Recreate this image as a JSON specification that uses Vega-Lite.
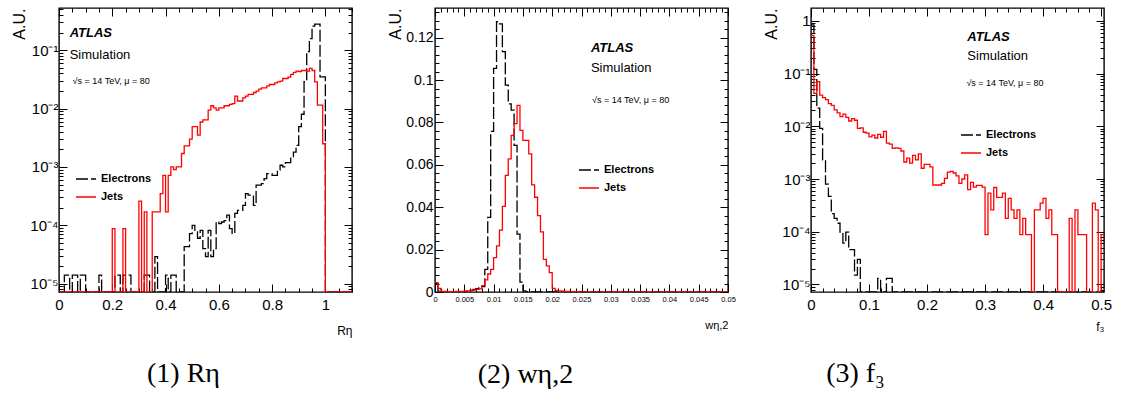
{
"$schema": "https://vega.github.io/schema/vega-lite/v6.json",
"background": "white",
"padding": {"left": 10, "top": 1, "right": 5, "bottom": 5},
"spacing": 83,
"bounds": "flush",
"config": {
  "view": {"stroke": "black", "strokeWidth": 1.4},
  "font": "Liberation Sans",
  "axis": {"domain": false, "grid": false, "tickColor": "black", "tickWidth": 1, "labelColor": "black", "titleColor": "black", "labelFont": "Liberation Sans", "titleFont": "Liberation Sans", "titleFontWeight": "normal", "labelFlush": false, "labelOverlap": false, "labelBound": false},
  "legend": {"symbolType": "stroke", "symbolSize": 400, "symbolStrokeWidth": 1.3, "labelFont": "Liberation Sans", "labelFontSize": 11, "labelFontWeight": "bold", "labelColor": "black", "rowPadding": 2, "labelOffset": 4},
  "title": {"font": "Liberation Serif", "fontSize": 28, "fontWeight": "normal", "color": "black", "orient": "bottom", "anchor": "middle", "frame": "group"}
},
"resolve": {"scale": {"x": "independent", "y": "independent", "color": "independent", "strokeDash": "independent"}, "legend": {"color": "independent", "strokeDash": "independent"}},
"hconcat": [
{
  "width": 293, "height": 284,
  "title": {"text": "(1) Rη", "offset": 24, "dx": -22},
  "data": {"values": [
    {"x":0,"Electrons":0,"Jets":0},{"x":0.01,"Electrons":0,"Jets":0},{"x":0.02,"Electrons":1.4e-5,"Jets":0},{"x":0.03,"Electrons":1.4e-5,"Jets":0},{"x":0.04,"Electrons":0,"Jets":0},{"x":0.05,"Electrons":1.4e-5,"Jets":0},{"x":0.06,"Electrons":1.4e-5,"Jets":0},{"x":0.07,"Electrons":0,"Jets":0},{"x":0.08,"Electrons":1.4e-5,"Jets":0},{"x":0.09,"Electrons":1.4e-5,"Jets":0},
    {"x":0.1,"Electrons":0,"Jets":0},{"x":0.11,"Electrons":0,"Jets":0},{"x":0.12,"Electrons":0,"Jets":0},{"x":0.13,"Electrons":0,"Jets":0},{"x":0.14,"Electrons":0,"Jets":0},{"x":0.15,"Electrons":1.4e-5,"Jets":0},{"x":0.16,"Electrons":0,"Jets":0},{"x":0.17,"Electrons":0,"Jets":0},{"x":0.18,"Electrons":0,"Jets":0},{"x":0.19,"Electrons":0,"Jets":0},
    {"x":0.2,"Electrons":0,"Jets":8.8e-5},{"x":0.21,"Electrons":1.4e-5,"Jets":0},{"x":0.22,"Electrons":1.4e-5,"Jets":0},{"x":0.23,"Electrons":0,"Jets":0},{"x":0.24,"Electrons":1.4e-5,"Jets":8.8e-5},{"x":0.25,"Electrons":1.4e-5,"Jets":0},{"x":0.26,"Electrons":1.4e-5,"Jets":0},{"x":0.27,"Electrons":0,"Jets":0},{"x":0.28,"Electrons":0,"Jets":0},{"x":0.29,"Electrons":0,"Jets":0},
    {"x":0.3,"Electrons":0,"Jets":2.6e-4},{"x":0.31,"Electrons":0,"Jets":0},{"x":0.32,"Electrons":1.4e-5,"Jets":1.7e-4},{"x":0.33,"Electrons":1.4e-5,"Jets":0},{"x":0.34,"Electrons":0,"Jets":0},{"x":0.35,"Electrons":0,"Jets":1.7e-4},{"x":0.36,"Electrons":2.9e-5,"Jets":1.7e-4},{"x":0.37,"Electrons":0,"Jets":1.7e-4},{"x":0.38,"Electrons":0,"Jets":3.5e-4},{"x":0.39,"Electrons":0,"Jets":7.2e-4},
    {"x":0.4,"Electrons":1.4e-5,"Jets":1.7e-4},{"x":0.41,"Electrons":0,"Jets":7.2e-4},{"x":0.42,"Electrons":1.4e-5,"Jets":1e-3},{"x":0.43,"Electrons":1.4e-5,"Jets":9e-4},{"x":0.44,"Electrons":0,"Jets":1e-3},{"x":0.45,"Electrons":0,"Jets":1e-3},{"x":0.46,"Electrons":0,"Jets":1.7e-3},{"x":0.47,"Electrons":4.3e-5,"Jets":2.3e-3},{"x":0.48,"Electrons":4.3e-5,"Jets":2.3e-3},{"x":0.49,"Electrons":7.2e-5,"Jets":3e-3},
    {"x":0.5,"Electrons":1e-4,"Jets":4.9e-3},{"x":0.51,"Electrons":8.2e-5,"Jets":4.9e-3},{"x":0.52,"Electrons":6e-5,"Jets":3.5e-3},{"x":0.53,"Electrons":8.2e-5,"Jets":5.9e-3},{"x":0.54,"Electrons":4e-5,"Jets":6.4e-3},{"x":0.55,"Electrons":2.9e-5,"Jets":6.4e-3},{"x":0.56,"Electrons":8.2e-5,"Jets":9.4e-3},{"x":0.57,"Electrons":2.9e-5,"Jets":1.12e-2},{"x":0.58,"Electrons":4e-5,"Jets":1.03e-2},{"x":0.59,"Electrons":1.14e-4,"Jets":9.4e-3},
    {"x":0.6,"Electrons":1.07e-4,"Jets":1.03e-2},{"x":0.61,"Electrons":1.14e-4,"Jets":1.03e-2},{"x":0.62,"Electrons":1.2e-4,"Jets":1.12e-2},{"x":0.63,"Electrons":1.49e-4,"Jets":1.12e-2},{"x":0.64,"Electrons":8.8e-5,"Jets":1.18e-2},{"x":0.65,"Electrons":7.2e-5,"Jets":1.22e-2},{"x":0.66,"Electrons":1.6e-4,"Jets":1.64e-2},{"x":0.67,"Electrons":1.8e-4,"Jets":1.35e-2},{"x":0.68,"Electrons":1.8e-4,"Jets":1.35e-2},{"x":0.69,"Electrons":2.2e-4,"Jets":1.53e-2},
    {"x":0.7,"Electrons":3.5e-4,"Jets":1.64e-2},{"x":0.71,"Electrons":3.3e-4,"Jets":1.75e-2},{"x":0.72,"Electrons":3.3e-4,"Jets":1.75e-2},{"x":0.73,"Electrons":2.2e-4,"Jets":1.89e-2},{"x":0.74,"Electrons":4.9e-4,"Jets":2e-2},{"x":0.75,"Electrons":4.9e-4,"Jets":2.16e-2},{"x":0.76,"Electrons":5.2e-4,"Jets":2.27e-2},{"x":0.77,"Electrons":6.3e-4,"Jets":2.27e-2},{"x":0.78,"Electrons":7.7e-4,"Jets":2.46e-2},{"x":0.79,"Electrons":7.7e-4,"Jets":2.59e-2},
    {"x":0.8,"Electrons":7.2e-4,"Jets":2.59e-2},{"x":0.81,"Electrons":7.2e-4,"Jets":2.77e-2},{"x":0.82,"Electrons":8.8e-4,"Jets":2.88e-2},{"x":0.83,"Electrons":1.07e-3,"Jets":2.96e-2},{"x":0.84,"Electrons":1e-3,"Jets":3.28e-2},{"x":0.85,"Electrons":1.19e-3,"Jets":3.28e-2},{"x":0.86,"Electrons":1.19e-3,"Jets":3.47e-2},{"x":0.87,"Electrons":1.49e-3,"Jets":3.85e-2},{"x":0.88,"Electrons":1.8e-3,"Jets":4.17e-2},{"x":0.89,"Electrons":2.35e-3,"Jets":4.4e-2},
    {"x":0.9,"Electrons":4.9e-3,"Jets":4.3e-2},{"x":0.91,"Electrons":8e-3,"Jets":4.5e-2},{"x":0.92,"Electrons":2.9e-2,"Jets":4.5e-2},{"x":0.93,"Electrons":9.5e-2,"Jets":4.4e-2},{"x":0.94,"Electrons":0.158,"Jets":4.88e-2},{"x":0.95,"Electrons":0.26,"Jets":4.5e-2},{"x":0.96,"Electrons":0.28,"Jets":2.88e-2},{"x":0.97,"Electrons":0.28,"Jets":1.15e-2},{"x":0.98,"Electrons":3.5e-2,"Jets":1.15e-2},{"x":0.99,"Electrons":3.5e-2,"Jets":2.5e-3},
    {"x":1.0,"Electrons":0,"Jets":0},{"x":1.01,"Electrons":0,"Jets":0},{"x":1.02,"Electrons":0,"Jets":0},{"x":1.03,"Electrons":0,"Jets":0},{"x":1.04,"Electrons":0,"Jets":0},{"x":1.05,"Electrons":0,"Jets":0},{"x":1.06,"Electrons":0,"Jets":0},{"x":1.07,"Electrons":0,"Jets":0},{"x":1.08,"Electrons":0,"Jets":0},{"x":1.09,"Electrons":0,"Jets":0},{"x":1.1,"Electrons":0,"Jets":0}
  ]},
  "transform": [{"fold": ["Electrons", "Jets"], "as": ["s", "v"]}],
  "resolve": {"axis": {"x": "independent", "y": "independent"}},
  "layer": [
    {
      "mark": {"type": "line", "interpolate": "step-after", "strokeWidth": 1.3, "clip": true, "invalid": "show"},
      "encoding": {
        "x": {"field": "x", "type": "quantitative", "scale": {"domain": [0, 1.1], "nice": false, "zero": false},
          "axis": {"orient": "bottom", "values": [0,0.05,0.1,0.15,0.2,0.25,0.3,0.35,0.4,0.45,0.5,0.55,0.6,0.65,0.7,0.75,0.8,0.85,0.9,0.95,1,1.05,1.1],
            "labelExpr": "abs(datum.value*5-round(datum.value*5))<0.001 ? format(datum.value,'~g') : ''",
            "tickSize": {"condition": {"test": "abs(datum.value*5-round(datum.value*5))<0.001", "value": -8}, "value": -4},
            "labelFontSize": 15, "labelPadding": 13, "minExtent": 22, "maxExtent": 22, "title": "Rη", "titleAnchor": "end", "titleFontSize": 12, "titlePadding": 11}},
        "y": {"field": "v", "type": "quantitative", "scale": {"type": "log", "domain": [7.2e-6, 0.53], "nice": false, "clamp": true},
          "axis": {"orient": "left", "values": [8e-6,9e-6,1e-5,2e-5,3e-5,4e-5,5e-5,6e-5,7e-5,8e-5,9e-5,1e-4,2e-4,3e-4,4e-4,5e-4,6e-4,7e-4,8e-4,9e-4,0.001,0.002,0.003,0.004,0.005,0.006,0.007,0.008,0.009,0.01,0.02,0.03,0.04,0.05,0.06,0.07,0.08,0.09,0.1,0.2,0.3,0.4,0.5],
            "labelExpr": "abs(log(datum.value)/LN10-round(log(datum.value)/LN10))<0.01 ? ['10⁻⁵','10⁻⁴','10⁻³','10⁻²','10⁻¹','1'][round(log(datum.value)/LN10)+5] : ''",
            "tickSize": {"condition": {"test": "abs(log(datum.value)/LN10-round(log(datum.value)/LN10))<0.01", "value": -8}, "value": -4},
            "labelFontSize": 15, "labelPadding": 9, "minExtent": 28, "maxExtent": 28, "title": "A.U.", "titleAnchor": "end", "titleFontSize": 16, "titlePadding": 4}},
        "color": {"field": "s", "type": "nominal", "scale": {"domain": ["Electrons", "Jets"], "range": ["#000000", "#ff0000"]}, "legend": {"title": null, "orient": "none", "legendX": 16, "legendY": 160}},
        "strokeDash": {"field": "s", "type": "nominal", "scale": {"domain": ["Electrons", "Jets"], "range": [[12, 3], [1, 0]]}, "legend": {"title": null, "orient": "none", "legendX": 16, "legendY": 160}}
      }
    },
    {
      "mark": {"type": "line", "interpolate": "step-after", "strokeOpacity": 0, "clip": true, "invalid": "show"},
      "encoding": {
        "x": {"field": "x", "type": "quantitative", "axis": {"orient": "top", "labels": false, "title": null, "values": [0,0.05,0.1,0.15,0.2,0.25,0.3,0.35,0.4,0.45,0.5,0.55,0.6,0.65,0.7,0.75,0.8,0.85,0.9,0.95,1,1.05,1.1],
            "tickSize": {"condition": {"test": "abs(datum.value*5-round(datum.value*5))<0.001", "value": -8}, "value": -4}}},
        "y": {"field": "v", "type": "quantitative", "axis": {"orient": "right", "labels": false, "title": null, "values": [8e-6,9e-6,1e-5,2e-5,3e-5,4e-5,5e-5,6e-5,7e-5,8e-5,9e-5,1e-4,2e-4,3e-4,4e-4,5e-4,6e-4,7e-4,8e-4,9e-4,0.001,0.002,0.003,0.004,0.005,0.006,0.007,0.008,0.009,0.01,0.02,0.03,0.04,0.05,0.06,0.07,0.08,0.09,0.1,0.2,0.3,0.4,0.5],
            "tickSize": {"condition": {"test": "abs(log(datum.value)/LN10-round(log(datum.value)/LN10))<0.01", "value": -8}, "value": -4}}},
        "detail": {"field": "s"}
      }
    },
    {
      "data": {"values": [{}]},
      "mark": {"type": "text", "text": "ATLAS", "font": "Liberation Sans", "fontSize": 13, "fontWeight": "bold", "fontStyle": "italic", "align": "left", "baseline": "middle", "color": "black"},
      "encoding": {"x": {"datum": 0.04, "type": "quantitative", "axis": null}, "y": {"datum": 0.194, "type": "quantitative", "axis": null}}
    },
    {
      "data": {"values": [{}]},
      "mark": {"type": "text", "text": "Simulation", "font": "Liberation Sans", "fontSize": 13, "align": "left", "baseline": "middle", "color": "black"},
      "encoding": {"x": {"datum": 0.04, "type": "quantitative", "axis": null}, "y": {"datum": 0.084, "type": "quantitative", "axis": null}}
    },
    {
      "data": {"values": [{}]},
      "mark": {"type": "text", "text": "√s = 14 TeV, μ = 80", "font": "Liberation Sans", "fontSize": 9, "align": "left", "baseline": "middle", "color": "black"},
      "encoding": {"x": {"datum": 0.051, "type": "quantitative", "axis": null}, "y": {"datum": 0.03, "type": "quantitative", "axis": null}}
    }
  ]
},
{
  "width": 293, "height": 284,
  "title": {"text": "(2) wη,2", "offset": 31, "dx": -56},
  "data": {"values": [
    {"x":0,"Electrons":0.004,"Jets":0.0044},{"x":0.0005,"Electrons":0.0005,"Jets":0.0017},{"x":0.001,"Electrons":0,"Jets":0.0003},{"x":0.0015,"Electrons":0,"Jets":0.0003},{"x":0.002,"Electrons":0,"Jets":0.0002},{"x":0.0025,"Electrons":0,"Jets":0.0002},{"x":0.003,"Electrons":0,"Jets":0.0002},{"x":0.0035,"Electrons":0,"Jets":0.0003},{"x":0.004,"Electrons":0.0001,"Jets":0.0003},{"x":0.0045,"Electrons":0.0002,"Jets":0.0003},
    {"x":0.005,"Electrons":0.0003,"Jets":0.0004},{"x":0.0055,"Electrons":0.0005,"Jets":0.0005},{"x":0.006,"Electrons":0.0008,"Jets":0.0007},{"x":0.0065,"Electrons":0.0012,"Jets":0.0009},{"x":0.007,"Electrons":0.0016,"Jets":0.0012},{"x":0.0075,"Electrons":0.002,"Jets":0.0015},{"x":0.008,"Electrons":0.0025,"Jets":0.003},{"x":0.0085,"Electrons":0.0107,"Jets":0.0057},{"x":0.009,"Electrons":0.0352,"Jets":0.0085},{"x":0.0095,"Electrons":0.0758,"Jets":0.0107},
    {"x":0.01,"Electrons":0.1055,"Jets":0.0162},{"x":0.0105,"Electrons":0.1276,"Jets":0.0218},{"x":0.011,"Electrons":0.1265,"Jets":0.0292},{"x":0.0115,"Electrons":0.1134,"Jets":0.0404},{"x":0.012,"Electrons":0.0976,"Jets":0.055},{"x":0.0125,"Electrons":0.0888,"Jets":0.0628},{"x":0.013,"Electrons":0.0858,"Jets":0.0739},{"x":0.0135,"Electrons":0.0692,"Jets":0.0794},{"x":0.014,"Electrons":0.0273,"Jets":0.0881},{"x":0.0145,"Electrons":0.0047,"Jets":0.0763},
    {"x":0.015,"Electrons":0.0005,"Jets":0.0715},{"x":0.0155,"Electrons":0.0002,"Jets":0.0715},{"x":0.016,"Electrons":0.0001,"Jets":0.0652},{"x":0.0165,"Electrons":0,"Jets":0.0505},{"x":0.017,"Electrons":0,"Jets":0.0447},{"x":0.0175,"Electrons":0,"Jets":0.036},{"x":0.018,"Electrons":0,"Jets":0.0284},{"x":0.0185,"Electrons":0,"Jets":0.0154},{"x":0.019,"Electrons":0,"Jets":0.0123},{"x":0.0195,"Electrons":0,"Jets":0.0091},
    {"x":0.02,"Electrons":0,"Jets":0.0017},{"x":0.0205,"Electrons":0,"Jets":0.0008},{"x":0.021,"Electrons":0,"Jets":0.0005},{"x":0.0215,"Electrons":0,"Jets":0.0004},{"x":0.022,"Electrons":0,"Jets":0.0003},{"x":0.0225,"Electrons":0,"Jets":0.0003},{"x":0.023,"Electrons":0,"Jets":0.0002},{"x":0.0235,"Electrons":0,"Jets":0.0002},{"x":0.024,"Electrons":0,"Jets":0.0002},{"x":0.0245,"Electrons":0,"Jets":0.0001},
    {"x":0.025,"Electrons":0,"Jets":0.0001},{"x":0.0255,"Electrons":0,"Jets":0},{"x":0.026,"Electrons":0,"Jets":0},{"x":0.0265,"Electrons":0,"Jets":0},{"x":0.027,"Electrons":0,"Jets":0},{"x":0.0275,"Electrons":0,"Jets":0},{"x":0.028,"Electrons":0,"Jets":0},{"x":0.0285,"Electrons":0,"Jets":0},{"x":0.029,"Electrons":0,"Jets":0},{"x":0.0295,"Electrons":0,"Jets":0},
    {"x":0.03,"Electrons":0,"Jets":0},{"x":0.0305,"Electrons":0,"Jets":0},{"x":0.031,"Electrons":0,"Jets":0},{"x":0.0315,"Electrons":0,"Jets":0},{"x":0.032,"Electrons":0,"Jets":0},{"x":0.0325,"Electrons":0,"Jets":0},{"x":0.033,"Electrons":0,"Jets":0},{"x":0.0335,"Electrons":0,"Jets":0},{"x":0.034,"Electrons":0,"Jets":0},{"x":0.0345,"Electrons":0,"Jets":0},
    {"x":0.035,"Electrons":0,"Jets":0},{"x":0.0355,"Electrons":0,"Jets":0},{"x":0.036,"Electrons":0,"Jets":0},{"x":0.0365,"Electrons":0,"Jets":0},{"x":0.037,"Electrons":0,"Jets":0},{"x":0.0375,"Electrons":0,"Jets":0},{"x":0.038,"Electrons":0,"Jets":0},{"x":0.0385,"Electrons":0,"Jets":0},{"x":0.039,"Electrons":0,"Jets":0},{"x":0.0395,"Electrons":0,"Jets":0},
    {"x":0.04,"Electrons":0,"Jets":0},{"x":0.0405,"Electrons":0,"Jets":0},{"x":0.041,"Electrons":0,"Jets":0},{"x":0.0415,"Electrons":0,"Jets":0},{"x":0.042,"Electrons":0,"Jets":0},{"x":0.0425,"Electrons":0,"Jets":0},{"x":0.043,"Electrons":0,"Jets":0},{"x":0.0435,"Electrons":0,"Jets":0},{"x":0.044,"Electrons":0,"Jets":0},{"x":0.0445,"Electrons":0,"Jets":0},
    {"x":0.045,"Electrons":0,"Jets":0},{"x":0.0455,"Electrons":0,"Jets":0},{"x":0.046,"Electrons":0,"Jets":0},{"x":0.0465,"Electrons":0,"Jets":0},{"x":0.047,"Electrons":0,"Jets":0},{"x":0.0475,"Electrons":0,"Jets":0},{"x":0.048,"Electrons":0,"Jets":0},{"x":0.0485,"Electrons":0,"Jets":0},{"x":0.049,"Electrons":0,"Jets":0},{"x":0.0495,"Electrons":0,"Jets":0},
    {"x":0.05,"Electrons":0,"Jets":0}
  ]},
  "transform": [{"fold": ["Electrons", "Jets"], "as": ["s", "v"]}],
  "resolve": {"axis": {"x": "independent", "y": "independent"}},
  "layer": [
    {
      "mark": {"type": "line", "interpolate": "step-after", "strokeWidth": 1.3, "clip": true},
      "encoding": {
        "x": {"field": "x", "type": "quantitative", "scale": {"domain": [0, 0.05], "nice": false, "zero": false},
          "axis": {"orient": "bottom", "values": [0,0.001,0.002,0.003,0.004,0.005,0.006,0.007,0.008,0.009,0.01,0.011,0.012,0.013,0.014,0.015,0.016,0.017,0.018,0.019,0.02,0.021,0.022,0.023,0.024,0.025,0.026,0.027,0.028,0.029,0.03,0.031,0.032,0.033,0.034,0.035,0.036,0.037,0.038,0.039,0.04,0.041,0.042,0.043,0.044,0.045,0.046,0.047,0.048,0.049,0.05],
            "labelExpr": "abs(datum.value*200-round(datum.value*200))<0.001 ? format(datum.value,'~g') : ''",
            "tickSize": {"condition": {"test": "abs(datum.value*200-round(datum.value*200))<0.001", "value": -8}, "value": -4},
            "labelFontSize": 7.5, "labelPadding": 11, "minExtent": 22, "maxExtent": 22, "title": "wη,2", "titleAnchor": "end", "titleFontSize": 11, "titlePadding": 5}},
        "y": {"field": "v", "type": "quantitative", "scale": {"domain": [0, 0.134], "nice": false, "zero": false},
          "axis": {"orient": "left", "values": [0,0.004,0.008,0.012,0.016,0.02,0.024,0.028,0.032,0.036,0.04,0.044,0.048,0.052,0.056,0.06,0.064,0.068,0.072,0.076,0.08,0.084,0.088,0.092,0.096,0.1,0.104,0.108,0.112,0.116,0.12,0.124,0.128,0.132],
            "labelExpr": "abs(datum.value*50-round(datum.value*50))<0.001 ? format(datum.value,'~g') : ''",
            "tickSize": {"condition": {"test": "abs(datum.value*50-round(datum.value*50))<0.001", "value": -8}, "value": -4},
            "labelFontSize": 14, "labelPadding": 10, "minExtent": 28, "maxExtent": 28, "title": "A.U.", "titleAnchor": "end", "titleFontSize": 16, "titlePadding": 4}},
        "color": {"field": "s", "type": "nominal", "scale": {"domain": ["Electrons", "Jets"], "range": ["#000000", "#ff0000"]}, "legend": {"title": null, "orient": "none", "legendX": 143, "legendY": 151}},
        "strokeDash": {"field": "s", "type": "nominal", "scale": {"domain": ["Electrons", "Jets"], "range": [[12, 3], [1, 0]]}, "legend": {"title": null, "orient": "none", "legendX": 143, "legendY": 151}}
      }
    },
    {
      "mark": {"type": "line", "interpolate": "step-after", "strokeOpacity": 0, "clip": true},
      "encoding": {
        "x": {"field": "x", "type": "quantitative", "axis": {"orient": "top", "labels": false, "title": null, "values": [0,0.001,0.002,0.003,0.004,0.005,0.006,0.007,0.008,0.009,0.01,0.011,0.012,0.013,0.014,0.015,0.016,0.017,0.018,0.019,0.02,0.021,0.022,0.023,0.024,0.025,0.026,0.027,0.028,0.029,0.03,0.031,0.032,0.033,0.034,0.035,0.036,0.037,0.038,0.039,0.04,0.041,0.042,0.043,0.044,0.045,0.046,0.047,0.048,0.049,0.05],
            "tickSize": {"condition": {"test": "abs(datum.value*200-round(datum.value*200))<0.001", "value": -8}, "value": -4}}},
        "y": {"field": "v", "type": "quantitative", "axis": {"orient": "right", "labels": false, "title": null, "values": [0,0.004,0.008,0.012,0.016,0.02,0.024,0.028,0.032,0.036,0.04,0.044,0.048,0.052,0.056,0.06,0.064,0.068,0.072,0.076,0.08,0.084,0.088,0.092,0.096,0.1,0.104,0.108,0.112,0.116,0.12,0.124,0.128,0.132],
            "tickSize": {"condition": {"test": "abs(datum.value*50-round(datum.value*50))<0.001", "value": -8}, "value": -4}}},
        "detail": {"field": "s"}
      }
    },
    {
      "data": {"values": [{}]},
      "mark": {"type": "text", "text": "ATLAS", "font": "Liberation Sans", "fontSize": 13, "fontWeight": "bold", "fontStyle": "italic", "align": "left", "baseline": "middle", "color": "black"},
      "encoding": {"x": {"datum": 0.0266, "type": "quantitative", "axis": null}, "y": {"datum": 0.1149, "type": "quantitative", "axis": null}}
    },
    {
      "data": {"values": [{}]},
      "mark": {"type": "text", "text": "Simulation", "font": "Liberation Sans", "fontSize": 13, "align": "left", "baseline": "middle", "color": "black"},
      "encoding": {"x": {"datum": 0.0266, "type": "quantitative", "axis": null}, "y": {"datum": 0.1059, "type": "quantitative", "axis": null}}
    },
    {
      "data": {"values": [{}]},
      "mark": {"type": "text", "text": "√s = 14 TeV, μ = 80", "font": "Liberation Sans", "fontSize": 9, "align": "left", "baseline": "middle", "color": "black"},
      "encoding": {"x": {"datum": 0.0268, "type": "quantitative", "axis": null}, "y": {"datum": 0.0906, "type": "quantitative", "axis": null}}
    }
  ]
},
{
  "width": 293, "height": 284,
  "title": {"text": "(3) f₃", "offset": 28, "dx": -102},
  "data": {"values": [
    {"x":0,"Electrons":0.84,"Jets":0.53},{"x":0.005,"Electrons":0.12,"Jets":0.042},{"x":0.01,"Electrons":0.022,"Jets":0.07},{"x":0.015,"Electrons":0.0091,"Jets":0.039},{"x":0.02,"Electrons":0.0023,"Jets":0.035},{"x":0.025,"Electrons":8e-4,"Jets":0.032},{"x":0.03,"Electrons":4.7e-4,"Jets":0.027},{"x":0.035,"Electrons":2.2e-4,"Jets":0.025},{"x":0.04,"Electrons":1.8e-4,"Jets":0.0204},{"x":0.045,"Electrons":1.45e-4,"Jets":0.018},
    {"x":0.05,"Electrons":9.8e-5,"Jets":0.0152},{"x":0.055,"Electrons":6.1e-5,"Jets":0.017},{"x":0.06,"Electrons":9.8e-5,"Jets":0.0148},{"x":0.065,"Electrons":4.6e-5,"Jets":0.0126},{"x":0.07,"Electrons":4.6e-5,"Jets":0.014},{"x":0.075,"Electrons":1.5e-5,"Jets":0.013},{"x":0.08,"Electrons":3e-5,"Jets":0.0091},{"x":0.085,"Electrons":0,"Jets":0.0093},{"x":0.09,"Electrons":0,"Jets":0.0077},{"x":0.095,"Electrons":0,"Jets":0.0074},
    {"x":0.1,"Electrons":0,"Jets":0.0063},{"x":0.105,"Electrons":0,"Jets":0.0068},{"x":0.11,"Electrons":0,"Jets":0.006},{"x":0.115,"Electrons":1.3e-5,"Jets":0.007},{"x":0.12,"Electrons":0,"Jets":0.0062},{"x":0.125,"Electrons":0,"Jets":0.008},{"x":0.13,"Electrons":1.3e-5,"Jets":0.0048},{"x":0.135,"Electrons":1.3e-5,"Jets":0.0046},{"x":0.14,"Electrons":0,"Jets":0.0038},{"x":0.145,"Electrons":0,"Jets":0.0039},
    {"x":0.15,"Electrons":0,"Jets":0.0038},{"x":0.155,"Electrons":0,"Jets":0.0034},{"x":0.16,"Electrons":0,"Jets":0.0021},{"x":0.165,"Electrons":0,"Jets":0.0025},{"x":0.17,"Electrons":0,"Jets":0.002},{"x":0.175,"Electrons":0,"Jets":0.0028},{"x":0.18,"Electrons":0,"Jets":0.0023},{"x":0.185,"Electrons":0,"Jets":0.003},{"x":0.19,"Electrons":0,"Jets":0.0016},{"x":0.195,"Electrons":0,"Jets":0.0019},
    {"x":0.2,"Electrons":0,"Jets":0.0019},{"x":0.205,"Electrons":0,"Jets":0.0017},{"x":0.21,"Electrons":0,"Jets":7.7e-4},{"x":0.215,"Electrons":0,"Jets":7.7e-4},{"x":0.22,"Electrons":0,"Jets":7.7e-4},{"x":0.225,"Electrons":0,"Jets":8.3e-4},{"x":0.23,"Electrons":0,"Jets":1.03e-3},{"x":0.235,"Electrons":0,"Jets":1.35e-3},{"x":0.24,"Electrons":0,"Jets":1.4e-3},{"x":0.245,"Electrons":0,"Jets":1.3e-3},
    {"x":0.25,"Electrons":0,"Jets":1.15e-3},{"x":0.255,"Electrons":0,"Jets":8.3e-4},{"x":0.26,"Electrons":0,"Jets":1e-3},{"x":0.265,"Electrons":0,"Jets":1.2e-3},{"x":0.27,"Electrons":0,"Jets":6.3e-4},{"x":0.275,"Electrons":0,"Jets":8.6e-4},{"x":0.28,"Electrons":0,"Jets":7e-4},{"x":0.285,"Electrons":0,"Jets":7.6e-4},{"x":0.29,"Electrons":0,"Jets":7.6e-4},{"x":0.295,"Electrons":0,"Jets":7e-4},
    {"x":0.3,"Electrons":0,"Jets":8.8e-5},{"x":0.305,"Electrons":0,"Jets":5.4e-4},{"x":0.31,"Electrons":0,"Jets":2.6e-4},{"x":0.315,"Electrons":0,"Jets":6.9e-4},{"x":0.32,"Electrons":0,"Jets":4.5e-4},{"x":0.325,"Electrons":0,"Jets":4.5e-4},{"x":0.33,"Electrons":0,"Jets":5.4e-4},{"x":0.335,"Electrons":0,"Jets":1.8e-4},{"x":0.34,"Electrons":0,"Jets":4.3e-4},{"x":0.345,"Electrons":0,"Jets":2.6e-4},
    {"x":0.35,"Electrons":0,"Jets":1.8e-4},{"x":0.355,"Electrons":0,"Jets":2.6e-4},{"x":0.36,"Electrons":0,"Jets":8.8e-5},{"x":0.365,"Electrons":0,"Jets":1.8e-4},{"x":0.37,"Electrons":0,"Jets":8.8e-5},{"x":0.375,"Electrons":0,"Jets":8.8e-5},{"x":0.38,"Electrons":0,"Jets":0},{"x":0.385,"Electrons":0,"Jets":2.6e-4},{"x":0.39,"Electrons":0,"Jets":2.6e-4},{"x":0.395,"Electrons":0,"Jets":3.5e-4},
    {"x":0.4,"Electrons":0,"Jets":4.3e-4},{"x":0.405,"Electrons":0,"Jets":1.8e-4},{"x":0.41,"Electrons":0,"Jets":2.6e-4},{"x":0.415,"Electrons":0,"Jets":8.8e-5},{"x":0.42,"Electrons":0,"Jets":8.8e-5},{"x":0.425,"Electrons":0,"Jets":0},{"x":0.43,"Electrons":0,"Jets":0},{"x":0.435,"Electrons":0,"Jets":0},{"x":0.44,"Electrons":0,"Jets":0},{"x":0.445,"Electrons":0,"Jets":1.8e-4},
    {"x":0.45,"Electrons":0,"Jets":0},{"x":0.455,"Electrons":0,"Jets":2.6e-4},{"x":0.46,"Electrons":0,"Jets":8.8e-5},{"x":0.465,"Electrons":0,"Jets":8.8e-5},{"x":0.47,"Electrons":0,"Jets":8.8e-5},{"x":0.475,"Electrons":0,"Jets":0},{"x":0.48,"Electrons":0,"Jets":0},{"x":0.485,"Electrons":0,"Jets":3.5e-4},{"x":0.49,"Electrons":0,"Jets":2.6e-4},{"x":0.495,"Electrons":0,"Jets":0},
    {"x":0.5,"Electrons":0,"Jets":8.8e-5},{"x":0.505,"Electrons":0,"Jets":8.8e-5}
  ]},
  "transform": [{"fold": ["Electrons", "Jets"], "as": ["s", "v"]}],
  "resolve": {"axis": {"x": "independent", "y": "independent"}},
  "layer": [
    {
      "mark": {"type": "line", "interpolate": "step-after", "strokeWidth": 1.3, "clip": true, "invalid": "show"},
      "encoding": {
        "x": {"field": "x", "type": "quantitative", "scale": {"domain": [0, 0.505], "nice": false, "zero": false},
          "axis": {"orient": "bottom", "values": [0,0.02,0.04,0.06,0.08,0.1,0.12,0.14,0.16,0.18,0.2,0.22,0.24,0.26,0.28,0.3,0.32,0.34,0.36,0.38,0.4,0.42,0.44,0.46,0.48,0.5],
            "labelExpr": "abs(datum.value*10-round(datum.value*10))<0.001 ? format(datum.value,'~g') : ''",
            "tickSize": {"condition": {"test": "abs(datum.value*10-round(datum.value*10))<0.001", "value": -8}, "value": -4},
            "labelFontSize": 15, "labelPadding": 13, "minExtent": 22, "maxExtent": 22, "title": "f₃", "titleAnchor": "end", "titleFontSize": 12, "titlePadding": 7}},
        "y": {"field": "v", "type": "quantitative", "scale": {"type": "log", "domain": [7.2e-6, 1.75], "nice": false, "clamp": true},
          "axis": {"orient": "left", "values": [8e-6,9e-6,1e-5,2e-5,3e-5,4e-5,5e-5,6e-5,7e-5,8e-5,9e-5,1e-4,2e-4,3e-4,4e-4,5e-4,6e-4,7e-4,8e-4,9e-4,0.001,0.002,0.003,0.004,0.005,0.006,0.007,0.008,0.009,0.01,0.02,0.03,0.04,0.05,0.06,0.07,0.08,0.09,0.1,0.2,0.3,0.4,0.5,0.6,0.7,0.8,0.9,1],
            "labelExpr": "abs(log(datum.value)/LN10-round(log(datum.value)/LN10))<0.01 ? ['10⁻⁵','10⁻⁴','10⁻³','10⁻²','10⁻¹','1'][round(log(datum.value)/LN10)+5] : ''",
            "tickSize": {"condition": {"test": "abs(log(datum.value)/LN10-round(log(datum.value)/LN10))<0.01", "value": -8}, "value": -4},
            "labelFontSize": 15, "labelPadding": 9, "minExtent": 28, "maxExtent": 28, "title": "A.U.", "titleAnchor": "end", "titleFontSize": 16, "titlePadding": 4}},
        "color": {"field": "s", "type": "nominal", "scale": {"domain": ["Electrons", "Jets"], "range": ["#000000", "#ff0000"]}, "legend": {"title": null, "orient": "none", "legendX": 149, "legendY": 116}},
        "strokeDash": {"field": "s", "type": "nominal", "scale": {"domain": ["Electrons", "Jets"], "range": [[12, 3], [1, 0]]}, "legend": {"title": null, "orient": "none", "legendX": 149, "legendY": 116}}
      }
    },
    {
      "mark": {"type": "line", "interpolate": "step-after", "strokeOpacity": 0, "clip": true, "invalid": "show"},
      "encoding": {
        "x": {"field": "x", "type": "quantitative", "axis": {"orient": "top", "labels": false, "title": null, "values": [0,0.02,0.04,0.06,0.08,0.1,0.12,0.14,0.16,0.18,0.2,0.22,0.24,0.26,0.28,0.3,0.32,0.34,0.36,0.38,0.4,0.42,0.44,0.46,0.48,0.5],
            "tickSize": {"condition": {"test": "abs(datum.value*10-round(datum.value*10))<0.001", "value": -8}, "value": -4}}},
        "y": {"field": "v", "type": "quantitative", "axis": {"orient": "right", "labels": false, "title": null, "values": [8e-6,9e-6,1e-5,2e-5,3e-5,4e-5,5e-5,6e-5,7e-5,8e-5,9e-5,1e-4,2e-4,3e-4,4e-4,5e-4,6e-4,7e-4,8e-4,9e-4,0.001,0.002,0.003,0.004,0.005,0.006,0.007,0.008,0.009,0.01,0.02,0.03,0.04,0.05,0.06,0.07,0.08,0.09,0.1,0.2,0.3,0.4,0.5,0.6,0.7,0.8,0.9,1],
            "tickSize": {"condition": {"test": "abs(log(datum.value)/LN10-round(log(datum.value)/LN10))<0.01", "value": -8}, "value": -4}}},
        "detail": {"field": "s"}
      }
    },
    {
      "data": {"values": [{}]},
      "mark": {"type": "text", "text": "ATLAS", "font": "Liberation Sans", "fontSize": 13, "fontWeight": "bold", "fontStyle": "italic", "align": "left", "baseline": "middle", "color": "black"},
      "encoding": {"x": {"datum": 0.2695, "type": "quantitative", "axis": null}, "y": {"datum": 0.5, "type": "quantitative", "axis": null}}
    },
    {
      "data": {"values": [{}]},
      "mark": {"type": "text", "text": "Simulation", "font": "Liberation Sans", "fontSize": 13, "align": "left", "baseline": "middle", "color": "black"},
      "encoding": {"x": {"datum": 0.2695, "type": "quantitative", "axis": null}, "y": {"datum": 0.218, "type": "quantitative", "axis": null}}
    },
    {
      "data": {"values": [{}]},
      "mark": {"type": "text", "text": "√s = 14 TeV, μ = 80", "font": "Liberation Sans", "fontSize": 9, "align": "left", "baseline": "middle", "color": "black"},
      "encoding": {"x": {"datum": 0.2678, "type": "quantitative", "axis": null}, "y": {"datum": 0.0676, "type": "quantitative", "axis": null}}
    }
  ]
}
]
}
